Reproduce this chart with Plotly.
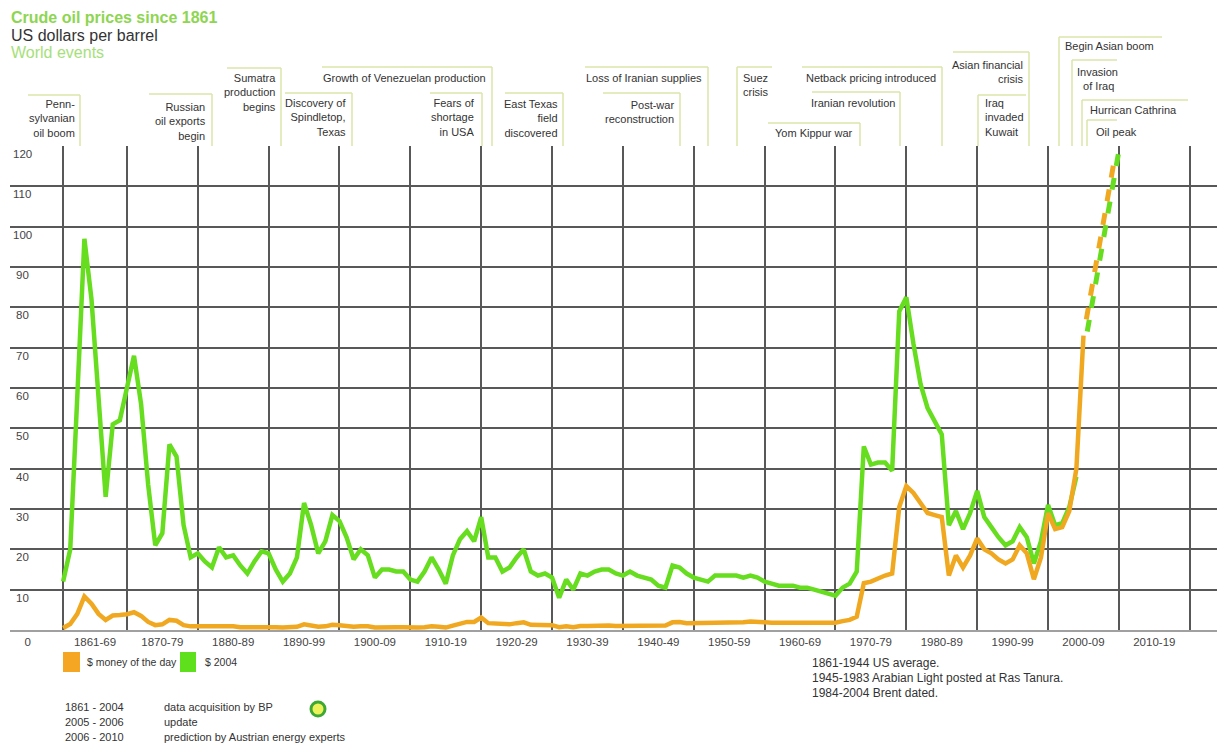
import plotly.graph_objects as go

# ---------------- data ----------------
YEARS_MONEY = list(range(1861, 2006))
MONEY_OF_THE_DAY = [
    0.5, 1.5, 4.0, 8.3, 6.5, 4.0, 2.5, 3.6, 3.7,            # 1861-69
    3.9, 4.4, 3.5, 2.0, 1.2, 1.4, 2.5, 2.3, 1.2, 0.9,       # 1870-79
    0.9, 0.9, 0.8, 1.0, 0.8, 0.9, 0.7, 0.7, 0.9, 0.9,       # 1880-89
    0.9, 0.7, 0.6, 0.6, 0.8, 1.4, 1.2, 0.8, 0.9, 1.3,       # 1890-99
    1.2, 1.0, 0.8, 0.9, 0.9, 0.6, 0.7, 0.7, 0.7, 0.7,       # 1900-09
    0.6, 0.6, 0.7, 0.9, 0.8, 0.6, 1.1, 1.6, 2.0, 2.0,       # 1910-19
    3.1, 1.7, 1.6, 1.3, 1.4, 1.7, 1.9, 1.3, 1.2, 1.3,       # 1920-29
    1.2, 0.7, 0.9, 0.7, 1.0, 1.0, 1.1, 1.2, 1.1, 1.0,       # 1930-39
    1.0, 1.1, 1.2, 1.2, 1.2, 1.1, 1.1, 1.9, 2.0, 1.7,       # 1940-49
    1.7, 1.7, 1.7, 1.9, 1.9, 1.9, 1.9, 1.9, 2.1, 2.1,       # 1950-59
    1.9, 1.8, 1.8, 1.8, 1.8, 1.8, 1.8, 1.8, 1.8, 1.8,       # 1960-69
    1.8, 2.2, 2.5, 3.3, 11.6, 12.0, 12.8, 13.5, 14.0, 30.5, # 1970-79
    35.7, 34.0, 31.5, 29.0, 28.5, 28.0, 13.5, 18.5, 15.5, 18.5,  # 1980-89
    22.7, 20.0, 19.0, 17.5, 16.5, 17.5, 21.0, 19.0, 12.6, 18.0,  # 1990-99
    29.0, 25.0, 25.5, 29.5, 40.0, 73.0,                     # 2000-05
]

YEARS_2004 = list(range(1861, 2005))
USD_2004 = [
    12, 20, 58, 97, 82, 57, 33, 51, 52,                      # 1861-69
    60, 68, 56, 36, 21, 24, 46, 43, 26, 18,                  # 1870-79
    19, 17, 15.5, 20.5, 18, 18.5, 16, 14, 17, 19.5,          # 1880-89
    19, 15, 12, 14, 18, 31.5, 26, 19, 22, 28.5,              # 1890-99
    27, 23, 17.5, 20, 18.5, 13, 15, 15, 14.5, 14.5,          # 1900-09
    12.5, 12, 14.5, 18, 15, 11.5, 18.5, 22.5, 24.5, 22,      # 1910-19
    28, 18, 18, 14.5, 15.5, 18, 20, 14.5, 13.5, 14,          # 1920-29
    13, 8, 12.5, 10, 14, 13.5, 14.5, 15, 15, 14,             # 1930-39
    13.5, 14.5, 13.5, 13, 12.5, 11, 10.5, 16, 15.5, 14,      # 1940-49
    13, 12.5, 12, 13.5, 13.5, 13.5, 13.5, 13, 13.5, 13,      # 1950-59
    12, 11.5, 11, 11, 11, 10.5, 10.5, 10, 9.5, 9,            # 1960-69
    8.5, 10.5, 11.5, 14.5, 45.5, 41, 41.5, 41.5, 39.5, 79,   # 1970-79
    82.5, 71, 61, 55, 52, 48.5, 26, 29.5, 25, 29,            # 1980-89
    34.5, 28, 25.5, 23, 21, 22, 25.5, 23, 16.5, 22,          # 1990-99
    31, 26, 26.5, 30.5, 38,                                  # 2000-04
]

# prediction 2006-2010 (dashed)
PRED_YEARS_MONEY = [2005.4, 2009.5]
PRED_MONEY = [77, 118]
PRED_YEARS_2004 = [2005.53, 2009.92]
PRED_2004 = [74, 118]

DECADE_BOUNDS = [1861] + list(range(1870, 2030, 10))
X_TICK_POS = [1856, 1865.5] + [d + 5 for d in range(1870, 2020, 10)]
X_TICK_TEXT = ["0", "1861-69"] + [f"{d}-{str(d + 9)[2:]}" for d in range(1870, 2020, 10)]
Y_TICKS = list(range(0, 130, 10))

EVENT_TEXTS = [
    "Penn-<br>sylvanian<br>oil boom",
    "Russian<br>oil exports<br>begin",
    "Sumatra<br>production<br>begins",
    "Discovery of<br>Spindletop,<br>Texas",
    "Growth of Venezuelan production",
    "Fears of<br>shortage<br>in USA",
    "East Texas<br>field<br>discovered",
    "Loss of Iranian supplies",
    "Post-war<br>reconstruction",
    "Suez<br>crisis",
    "Netback pricing introduced",
    "Iranian revolution",
    "Yom Kippur war",
    "Asian financial<br>crisis",
    "Iraq<br>invaded<br>Kuwait",
    "Begin Asian boom",
    "Invasion<br>&nbsp;&nbsp;of Iraq",
    "Hurrican Cathrina",
    "Oil peak",
]

# ---------------- layout geometry ----------------
# the page has an 8px body margin, so the figure is 8px smaller and all
# positions below are given in page pixels
BODY = 8
W, H = 1225 - BODY, 749 - BODY
PL, PR, PT, PB = 10, 1222, 146, 630   # plot area in page pixels


def xp(px):
    return (px - PL) / (PR - PL)


def yp(py):
    return (PB - py) / (PB - PT)


# event box geometry: left, right, top, side of vertical line, text x, text centre y, align
EVENT_BOXES = [
    (28, 80, 95, "r", 77, 119, "right"),
    (149, 212, 94, "r", 208, 121, "right"),
    (227, 281, 68, "r", 278, 92, "right"),
    (285, 352, 93, "r", 348, 117, "right"),
    (322, 492, 67, "r", 488, 78, "right"),
    (430, 482, 93, "r", 477, 117, "right"),
    (505, 563, 93, "r", 560, 119, "right"),
    (585, 708, 67, "r", 704, 78, "right"),
    (603, 680, 93, "r", 676, 112, "right"),
    (737, 772, 67, "l", 741, 85, "left"),
    (802, 942, 67, "r", 938, 78, "right"),
    (812, 900, 92, "r", 897, 103, "right"),
    (768, 860, 123, "r", 855, 133, "right"),
    (953, 1029, 52, "r", 1025, 72, "right"),
    (978, 1026, 95, "l", 983, 118, "left"),
    (1059, 1162, 37, "l", 1063, 46, "left"),
    (1072, 1117, 60, "l", 1075, 79, "left"),
    (1082, 1188, 100, "l", 1088, 110, "left"),
    (1087, 1117, 120, "l", 1094, 132, "left"),
]

GREEN = "#66dd1f"
ORANGE = "#f0a820"
BOX_LINE = "#dbe4a8"
GRID = "#585858"
TXT = "#333333"
FONT = "Liberation Sans, Arial, sans-serif"

fig = go.Figure()

fig.add_trace(go.Scatter(x=YEARS_2004, y=USD_2004, mode="lines",
                         line=dict(color=GREEN, width=4.5), name="$ 2004",
                         showlegend=False))
fig.add_trace(go.Scatter(x=YEARS_MONEY, y=MONEY_OF_THE_DAY, mode="lines",
                         line=dict(color=ORANGE, width=4.5), name="$ money of the day",
                         showlegend=False))
fig.add_trace(go.Scatter(x=PRED_YEARS_2004, y=PRED_2004, mode="lines",
                         line=dict(color=GREEN, width=5, dash="12px,12px"),
                         showlegend=False))
fig.add_trace(go.Scatter(x=PRED_YEARS_MONEY, y=PRED_MONEY, mode="lines",
                         line=dict(color=ORANGE, width=5, dash="12px,12px"),
                         showlegend=False))

shapes = []
annotations = []

# event boxes
for text, (l, r, t, side, tx, ty, al) in zip(EVENT_TEXTS, EVENT_BOXES):
    shapes.append(dict(type="line", xref="paper", yref="paper",
                       x0=xp(l), x1=xp(r), y0=yp(t), y1=yp(t),
                       line=dict(color=BOX_LINE, width=1.5)))
    vx = r if side == "r" else l
    shapes.append(dict(type="line", xref="paper", yref="paper",
                       x0=xp(vx), x1=xp(vx), y0=yp(t), y1=yp(PT),
                       line=dict(color=BOX_LINE, width=1.5)))
    annotations.append(dict(xref="paper", yref="paper", x=xp(tx), y=yp(ty),
                            text=text, showarrow=False,
                            xanchor="right" if al == "right" else "left",
                            yanchor="middle", align=al,
                            font=dict(family=FONT, size=11, color=TXT)))

# y tick labels (below each grid line)
for v in Y_TICKS[1:]:
    annotations.append(dict(xref="paper", yref="y", x=xp(22), y=v, yshift=-8,
                            text=str(v), showarrow=False, xanchor="center",
                            yanchor="middle",
                            font=dict(family=FONT, size=11.5, color="#444")))

# titles
annotations += [
    dict(xref="paper", yref="paper", x=xp(9), y=yp(17), text="<b>Crude oil prices since 1861</b>",
         showarrow=False, xanchor="left", yanchor="middle",
         font=dict(family=FONT, size=16, color="#8ed552")),
    dict(xref="paper", yref="paper", x=xp(9), y=yp(35), text="US dollars per barrel",
         showarrow=False, xanchor="left", yanchor="middle",
         font=dict(family=FONT, size=16, color="#333333")),
    dict(xref="paper", yref="paper", x=xp(9), y=yp(52), text="World events",
         showarrow=False, xanchor="left", yanchor="middle",
         font=dict(family=FONT, size=16, color="#a6e07a")),
]

# legend
shapes.append(dict(type="rect", xref="paper", yref="paper", x0=xp(63), x1=xp(80),
                   y0=yp(672), y1=yp(652), fillcolor="#f5a623", line=dict(width=0)))
shapes.append(dict(type="rect", xref="paper", yref="paper", x0=xp(180), x1=xp(196),
                   y0=yp(672), y1=yp(652), fillcolor="#5ee01c", line=dict(width=0)))
annotations += [
    dict(xref="paper", yref="paper", x=xp(85), y=yp(662), text="$ money of the day",
         showarrow=False, xanchor="left", yanchor="middle",
         font=dict(family=FONT, size=10.5, color=TXT)),
    dict(xref="paper", yref="paper", x=xp(203), y=yp(662), text="$ 2004",
         showarrow=False, xanchor="left", yanchor="middle",
         font=dict(family=FONT, size=10.5, color=TXT)),
]

# notes bottom left
for (a, b), yy in zip([("1861 - 2004", "data acquisition by BP"),
                       ("2005 - 2006", "update"),
                       ("2006 - 2010", "prediction by Austrian energy experts")],
                      [707, 722, 737]):
    annotations.append(dict(xref="paper", yref="paper", x=xp(63), y=yp(yy), text=a,
                            showarrow=False, xanchor="left", yanchor="middle",
                            font=dict(family=FONT, size=11, color=TXT)))
    annotations.append(dict(xref="paper", yref="paper", x=xp(162), y=yp(yy), text=b,
                            showarrow=False, xanchor="left", yanchor="middle",
                            font=dict(family=FONT, size=11, color=TXT)))

# BP logo
shapes.append(dict(type="circle", xref="paper", yref="paper",
                   x0=xp(311), x1=xp(325), y0=yp(716), y1=yp(702),
                   fillcolor="#eef25a", line=dict(color="#3da832", width=3)))

# notes bottom right
for txt, yy in zip(["1861-1944 US average.",
                    "1945-1983 Arabian Light posted at Ras Tanura.",
                    "1984-2004 Brent dated."], [663, 678, 693]):
    annotations.append(dict(xref="paper", yref="paper", x=xp(810), y=yp(yy), text=txt,
                            showarrow=False, xanchor="left", yanchor="middle",
                            font=dict(family=FONT, size=12, color=TXT)))

fig.update_layout(
    width=W, height=H,
    margin=dict(l=PL - BODY, r=W - (PR - BODY), t=PT - BODY, b=H - (PB - BODY)),
    paper_bgcolor="white", plot_bgcolor="white",
    showlegend=False,
    shapes=shapes, annotations=annotations,
    xaxis=dict(range=[1853.5, 2024.55], tickmode="array",
               tickvals=X_TICK_POS, ticktext=X_TICK_TEXT,
               showgrid=False, zeroline=False, ticks="",
               showline=True, linecolor="#a0a0a0", linewidth=2,
               tickfont=dict(family=FONT, size=11.5, color="#444"),
               minor=dict(tickmode="array", tickvals=DECADE_BOUNDS, showgrid=True,
                          gridcolor=GRID, gridwidth=1.5, ticks="")),
    yaxis=dict(range=[0, 120], tickmode="array", tickvals=Y_TICKS,
               showticklabels=False, showgrid=True, gridcolor=GRID, gridwidth=1.5,
               zeroline=False, ticks=""),
)

fig.write_html("out.html")
